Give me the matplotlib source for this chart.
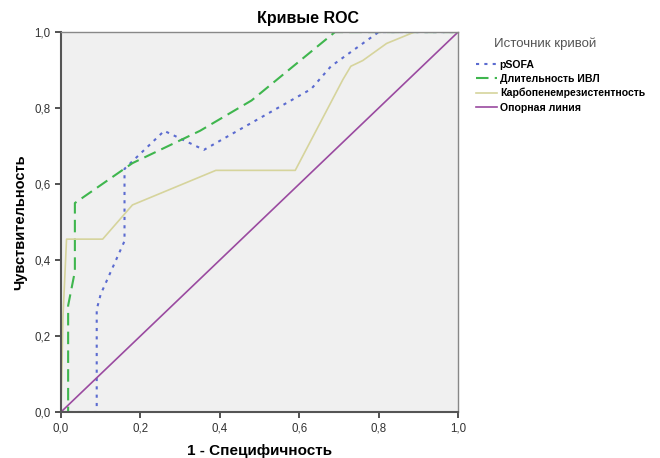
import matplotlib
matplotlib.use('Agg')
import matplotlib.pyplot as plt
from matplotlib.ticker import FuncFormatter

plt.rcParams['font.family'] = ['Liberation Sans', 'DejaVu Sans']

# ROC-кривые, значения
psofa_x = [0, 0.09, 0.09, 0.10, 0.13, 0.16, 0.16, 0.26, 0.36, 0.63, 0.68, 0.80, 1.0]
psofa_y = [0, 0.0, 0.27, 0.31, 0.38, 0.45, 0.64, 0.74, 0.69, 0.85, 0.91, 1.0, 1.0]

ivl_x = [0, 0.018, 0.018, 0.035, 0.035, 0.18, 0.27, 0.35, 0.48, 0.69, 1.0]
ivl_y = [0, 0.0, 0.28, 0.37, 0.55, 0.655, 0.70, 0.74, 0.82, 1.0, 1.0]

carb_x = [0, 0.005, 0.014, 0.105, 0.18, 0.39, 0.59, 0.71, 0.73, 0.76, 0.82, 0.89, 1.0]
carb_y = [0, 0.25, 0.455, 0.455, 0.545, 0.636, 0.636, 0.875, 0.91, 0.925, 0.97, 1.0, 1.0]

ref_x = [0, 1]
ref_y = [0, 1]

labels = ['pSOFA', 'Длительность ИВЛ', 'Карбопенемрезистентность', 'Опорная линия']
ticks = [0.0, 0.2, 0.4, 0.6, 0.8, 1.0]

fig = plt.figure(figsize=(6.6, 4.58), dpi=100)
ax = fig.add_axes([0.0924, 0.1004, 0.6016, 0.8296])
ax.set_facecolor('#f0f0f0')

ax.plot(psofa_x, psofa_y, color='#5b6bd0', lw=1.5, linestyle=(0, (1.5, 2.5)), label=labels[0])
ax.plot(ivl_x, ivl_y, color='#3fb64e', lw=1.5, linestyle=(0, (6, 3)), label=labels[1])
ax.plot(carb_x, carb_y, color='#d6d49c', lw=1.2, label=labels[2])
ax.plot(ref_x, ref_y, color='#9a4aa0', lw=1.2, label=labels[3])

ax.set_xlim(0, 1)
ax.set_ylim(0, 1)
ax.set_xticks(ticks)
ax.set_yticks(ticks)
fmt = FuncFormatter(lambda v, p: ('%.1f' % v).replace('.', ','))
ax.xaxis.set_major_formatter(fmt)
ax.yaxis.set_major_formatter(fmt)
ax.tick_params(direction='out', length=4, width=1.2, labelsize=8.3, colors='#333333')

for s in ['left', 'bottom']:
    ax.spines[s].set_color('#555555')
    ax.spines[s].set_linewidth(1.5)
for s in ['top', 'right']:
    ax.spines[s].set_color('#888888')
    ax.spines[s].set_linewidth(1.0)

# заголовок чуть правее центра, как в оригинале
ax.text(0.622, 1.037, 'Кривые ROC', transform=ax.transAxes, ha='center', va='center',
        fontsize=11.5, fontweight='bold')
ax.set_xlabel('1 - Специфичность', fontsize=11, fontweight='bold', labelpad=7)
ax.set_ylabel('Чувствительность', fontsize=10.5, fontweight='bold', labelpad=5)

fig.text(545 / 660, 1 - 44 / 458, 'Источник кривой', ha='center', va='center',
         fontsize=9.5, color='#555555')
leg = fig.legend(loc='upper left', bbox_to_anchor=(466 / 660, 1 - 50 / 458), frameon=False,
                 fontsize=7.6, handlelength=2.0, handletextpad=0.3, labelspacing=0.4)
for t in leg.get_texts():
    t.set_fontweight('bold')

fig.savefig('out.png', dpi=100)
